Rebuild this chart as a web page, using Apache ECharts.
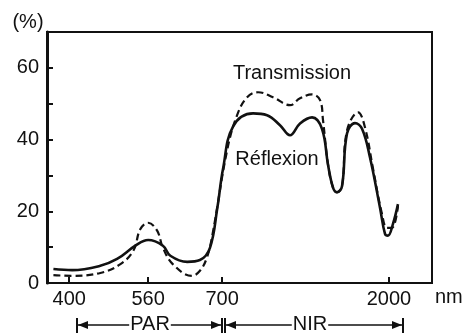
<!DOCTYPE html>
<html>
<head>
<meta charset="utf-8">
<script src="https://cdn.jsdelivr.net/npm/echarts@6/dist/echarts.min.js"></script>
<style>
  html, body { margin: 0; padding: 0; background: #fff; }
  #chart { width: 464px; height: 336px; }
</style>
</head>
<body>
<div id="chart"></div>
<script>
// Labelled wavelengths on the (broken) x axis, in nm
const tickWavelengths = [400, 560, 700, 2000];
const tickLabels = ['400', '560', '700', '2000'];

// Reflection of a leaf (%) against wavelength (nm)
const reflWavelength = [368, 406, 463, 497, 534, 560, 588, 602, 634, 658, 677, 691, 708, 786, 941, 1050, 1151, 1229, 1307, 1401, 1478, 1525, 1564, 1595, 1634, 1673, 1735, 1790, 1852, 1930, 1969, 1992, 2031, 2070];
const reflValue      = [3.9, 3.6, 4.8, 6.7, 10.4, 12.0, 10.4, 7.6, 5.9, 6.4, 9.8, 21, 32, 43.7, 47.3, 46.8, 44, 41.2, 44.5, 46.2, 43, 33, 26.6, 25.3, 27, 41.7, 44.6, 43, 35, 21, 13.7, 13.2, 16.5, 22];

// Transmission of a leaf (%) against wavelength (nm)
const transWavelength = [368, 406, 463, 503, 530, 544, 560, 577, 588, 607, 643, 658, 671, 682, 739, 817, 895, 980, 1097, 1229, 1307, 1401, 1463, 1486, 1525, 1564, 1595, 1634, 1673, 1759, 1813, 1875, 1945, 1984, 2023, 2070];
const transValue      = [2.2, 2.0, 2.8, 5.2, 9, 15, 16.8, 14.6, 9.8, 5.2, 2.0, 3.4, 7, 13.7, 37, 46.8, 51.8, 53.2, 51.8, 49.6, 51.5, 52.6, 51, 45.4, 33, 26.6, 25.3, 27, 42.5, 47.6, 43.4, 32, 19.3, 15.4, 15.4, 21.5];

// The wavelength scale is piecewise linear: each labelled interval gets its own width
const scaleNodes = [400, 560, 700, 2000];
const scaleUnits = [0, 79, 153, 320];
function warp(l) {
  const i = l <= 560 ? 0 : (l <= 700 ? 1 : 2);
  const a = scaleNodes[i], b = scaleNodes[i + 1];
  const ua = scaleUnits[i], ub = scaleUnits[i + 1];
  return ua + (l - a) * (ub - ua) / (b - a);
}
const toPairs = (xs, ys) => xs.map((x, i) => [warp(x), ys[i]]);

const INK = '#111';
const FONT = '"Liberation Sans", Arial, sans-serif';

const chart = echarts.init(document.getElementById('chart'), null, { renderer: 'canvas' });

chart.setOption({
  animation: false,
  backgroundColor: '#fff',
  grid: {
    left: 47, right: 32, top: 32, bottom: 53,
    show: true, borderColor: INK, borderWidth: 2,
    containLabel: false, outerBoundsMode: 'none'
  },
  xAxis: {
    type: 'value',
    min: warp(355),
    max: warp(2335),
    splitLine: { show: false },
    axisLine: { show: false, onZero: false },
    axisTick: {
      show: true, inside: true, length: 6,
      customValues: tickWavelengths.map(warp),
      lineStyle: { color: INK, width: 2 }
    },
    axisLabel: {
      show: true, margin: 6,
      customValues: tickWavelengths.map(warp),
      formatter: v => {
        const i = tickWavelengths.findIndex(w => Math.abs(warp(w) - v) < 0.5);
        return i >= 0 ? tickLabels[i] : '';
      },
      color: INK, fontSize: 20, fontFamily: FONT
    }
  },
  yAxis: {
    type: 'value',
    min: 0, max: 70, interval: 10,
    splitLine: { show: false },
    axisLine: { show: true, onZero: false, lineStyle: { color: INK, width: 3 } },
    axisTick: { show: true, inside: true, length: 6, lineStyle: { color: INK, width: 2 } },
    axisLabel: {
      margin: 8,
      formatter: v => (v % 20 === 0 && v < 70 ? String(v) : ''),
      color: INK, fontSize: 20, fontFamily: FONT
    }
  },
  series: [
    {
      name: 'Réflexion',
      type: 'line',
      data: toPairs(reflWavelength, reflValue),
      showSymbol: false,
      smooth: 0.4,
      lineStyle: { color: INK, width: 2.6 },
      z: 3
    },
    {
      name: 'Transmission',
      type: 'line',
      data: toPairs(transWavelength, transValue),
      showSymbol: false,
      smooth: 0.4,
      lineStyle: { color: INK, width: 2.2, type: [7, 4] },
      z: 2
    }
  ],
  graphic: [
    { type: 'text', x: 28, y: 22, style: { text: '(%)', font: '20px ' + FONT, fill: INK, align: 'center', verticalAlign: 'middle' } },
    { type: 'text', x: 435, y: 297, style: { text: 'nm', font: '20px ' + FONT, fill: INK, align: 'left', verticalAlign: 'middle' } },
    { type: 'text', x: 292, y: 73, style: { text: 'Transmission', font: '20px ' + FONT, fill: INK, align: 'center', verticalAlign: 'middle' } },
    { type: 'text', x: 277, y: 159, style: { text: 'Réflexion', font: '20px ' + FONT, fill: INK, align: 'center', verticalAlign: 'middle' } },

    // PAR band bracket
    { type: 'line', shape: { x1: 77, y1: 325, x2: 222, y2: 325 }, style: { stroke: INK, lineWidth: 1.5 } },
    { type: 'line', shape: { x1: 77, y1: 318, x2: 77, y2: 333 }, style: { stroke: INK, lineWidth: 2 } },
    { type: 'line', shape: { x1: 222, y1: 318, x2: 222, y2: 333 }, style: { stroke: INK, lineWidth: 2 } },
    { type: 'polygon', shape: { points: [[78, 325], [88, 321], [88, 329]] }, style: { fill: INK } },
    { type: 'polygon', shape: { points: [[221, 325], [211, 321], [211, 329]] }, style: { fill: INK } },
    { type: 'text', x: 150, y: 324, z: 10, style: { text: 'PAR', font: '20px ' + FONT, fill: INK, align: 'center', verticalAlign: 'middle', backgroundColor: '#fff', padding: [0, 1] } },

    // NIR band bracket
    { type: 'line', shape: { x1: 225, y1: 325, x2: 403, y2: 325 }, style: { stroke: INK, lineWidth: 1.5 } },
    { type: 'line', shape: { x1: 225, y1: 318, x2: 225, y2: 333 }, style: { stroke: INK, lineWidth: 2 } },
    { type: 'line', shape: { x1: 403, y1: 318, x2: 403, y2: 333 }, style: { stroke: INK, lineWidth: 2 } },
    { type: 'polygon', shape: { points: [[226, 325], [236, 321], [236, 329]] }, style: { fill: INK } },
    { type: 'polygon', shape: { points: [[402, 325], [392, 321], [392, 329]] }, style: { fill: INK } },
    { type: 'text', x: 310, y: 324, z: 10, style: { text: 'NIR', font: '20px ' + FONT, fill: INK, align: 'center', verticalAlign: 'middle', backgroundColor: '#fff', padding: [0, 1] } }
  ]
});
</script>
</body>
</html>
